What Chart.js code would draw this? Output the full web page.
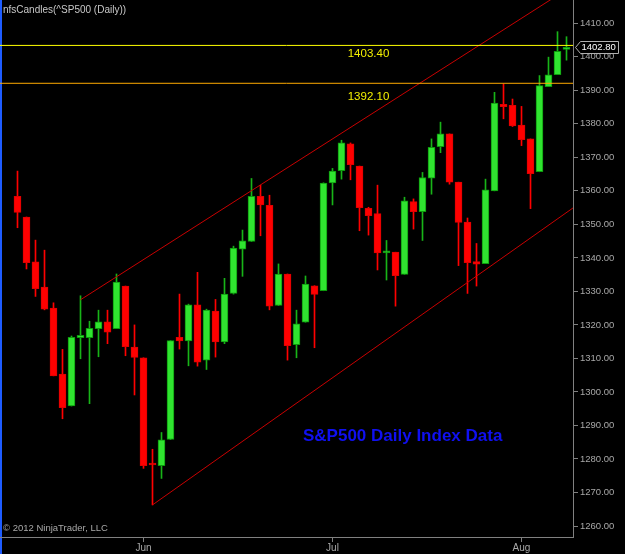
<!DOCTYPE html>
<html>
<head>
<meta charset="utf-8">
<script src="https://cdn.jsdelivr.net/npm/chart.js@4.4.1/dist/chart.umd.min.js"></script>
<style>
  html, body { margin: 0; padding: 0; background: #000; }
  #chart { display: block; }
</style>
</head>
<body>
<canvas id="chart" width="625" height="554"></canvas>
<script>
// Datos diarios (fecha, apertura, maximo, minimo, cierre)
const dates = [
  '2012-05-11', '2012-05-14', '2012-05-15', '2012-05-16', '2012-05-17', '2012-05-18', '2012-05-21',
  '2012-05-22', '2012-05-23', '2012-05-24', '2012-05-25', '2012-05-29', '2012-05-30', '2012-05-31',
  '2012-06-01', '2012-06-04', '2012-06-05', '2012-06-06', '2012-06-07', '2012-06-08', '2012-06-11',
  '2012-06-12', '2012-06-13', '2012-06-14', '2012-06-15', '2012-06-18', '2012-06-19', '2012-06-20',
  '2012-06-21', '2012-06-22', '2012-06-25', '2012-06-26', '2012-06-27', '2012-06-28', '2012-06-29',
  '2012-07-02', '2012-07-03', '2012-07-05', '2012-07-06', '2012-07-09', '2012-07-10', '2012-07-11',
  '2012-07-12', '2012-07-13', '2012-07-16', '2012-07-17', '2012-07-18', '2012-07-19', '2012-07-20',
  '2012-07-23', '2012-07-24', '2012-07-25', '2012-07-26', '2012-07-27', '2012-07-30', '2012-07-31',
  '2012-08-01', '2012-08-02', '2012-08-03', '2012-08-06', '2012-08-07', '2012-08-08'
];
const openVals = [
  1358.4, 1352.2, 1338.8, 1331.3, 1325.0, 1305.3, 1295.8, 1316.2, 1316.2, 1318.9, 1320.9, 1318.9, 1331.6, 1313.4,
  1310.2, 1278.4, 1278.0, 1285.8, 1316.3, 1315.2, 1326.0, 1309.5, 1324.1, 1314.9, 1329.4, 1342.6, 1344.9, 1358.4,
  1355.7, 1325.8, 1335.2, 1314.1, 1320.8, 1331.7, 1330.2, 1362.4, 1366.0, 1374.0, 1367.4, 1354.8, 1353.2, 1341.5,
  1341.7, 1335.1, 1356.8, 1353.8, 1363.8, 1373.2, 1377.0, 1362.6, 1350.7, 1338.9, 1338.3, 1360.0, 1385.8, 1385.5,
  1379.6, 1375.5, 1365.7, 1391.1, 1394.7, 1402.2
];
const highVals = [
  1365.9, 1352.2, 1345.3, 1342.3, 1326.6, 1312.7, 1316.7, 1328.7, 1321.1, 1324.4, 1324.4, 1335.2, 1331.6, 1320.0,
  1310.2, 1282.9, 1287.9, 1315.3, 1329.2, 1326.2, 1335.7, 1324.7, 1327.6, 1333.9, 1343.5, 1348.3, 1363.7, 1361.7,
  1358.7, 1338.2, 1335.2, 1324.4, 1334.6, 1331.7, 1362.4, 1366.7, 1375.1, 1374.3, 1367.4, 1355.1, 1361.7, 1345.2,
  1341.7, 1358.1, 1357.6, 1365.5, 1375.5, 1380.5, 1377.0, 1362.6, 1351.9, 1344.3, 1363.5, 1389.4, 1391.9, 1387.4,
  1385.2, 1375.5, 1394.4, 1399.9, 1407.5, 1406.0
];
const lowVals = [
  1349.0, 1336.7, 1328.5, 1324.5, 1304.8, 1292.0, 1295.8, 1309.9, 1296.5, 1310.5, 1314.4, 1318.9, 1310.8, 1299.1,
  1277.2, 1266.3, 1274.2, 1285.8, 1312.8, 1307.8, 1307.7, 1306.7, 1310.4, 1314.4, 1329.2, 1334.5, 1344.9, 1346.6,
  1324.5, 1325.8, 1309.5, 1310.2, 1320.8, 1313.2, 1330.2, 1355.8, 1363.5, 1363.3, 1348.1, 1346.8, 1336.4, 1333.4,
  1325.6, 1335.1, 1348.6, 1345.2, 1359.0, 1371.4, 1362.0, 1337.7, 1329.4, 1331.6, 1338.3, 1360.0, 1381.5, 1379.2,
  1373.5, 1354.7, 1365.7, 1391.1, 1394.7, 1399.0
];
const closeVals = [
  1353.6, 1338.6, 1330.8, 1324.7, 1304.8, 1295.3, 1316.3, 1316.9, 1319.0, 1320.9, 1317.8, 1332.8, 1313.5, 1310.3,
  1278.0, 1278.2, 1285.7, 1315.3, 1315.2, 1326.0, 1308.9, 1324.4, 1314.9, 1329.2, 1342.9, 1345.1, 1358.4, 1355.8,
  1325.6, 1335.2, 1313.8, 1320.3, 1332.2, 1329.1, 1362.3, 1365.9, 1374.3, 1367.8, 1355.0, 1352.6, 1341.5, 1341.7,
  1334.7, 1357.0, 1353.8, 1364.0, 1373.0, 1377.0, 1362.6, 1350.6, 1338.6, 1338.1, 1360.3, 1386.2, 1385.1, 1379.4,
  1375.3, 1365.1, 1391.4, 1394.6, 1401.6, 1402.8
];

// Etiquetas de los ejes
const monthLabels = ['Jun', 'Jul', 'Aug'];
const yTickValues = [1260, 1270, 1280, 1290, 1300, 1310, 1320, 1330, 1340, 1350, 1360, 1370, 1380, 1390, 1400, 1410];

// Lineas horizontales y canal (indice de vela, precio)
const levelValues = [1403.4, 1392.1];
const levelLabels = ['1403.40', '1392.10'];
const upperChannel = [[7, 1327.5], [61.72, 1421.3]];
const lowerChannel = [[15, 1266.3], [61.72, 1354.9]];

// Indices donde empieza cada mes (Jun, Jul, Aug)
const monthIdx = [];
dates.forEach((d, i) => {
  if (i > 0 && d.slice(5, 7) !== dates[i - 1].slice(5, 7)) monthIdx.push(i);
});

const FONT = 'Liberation Sans, Arial, sans-serif';
const isUp = openVals.map((o, i) => closeVals[i] >= o);

const bodies = dates.map((d, i) => ({ x: i, y: [openVals[i], closeVals[i]] }));
const wicks = dates.map((d, i) => ({ x: i, y: [lowVals[i], highVals[i]] }));

// Plugin: fondo, textos y marcador de precio
const decoPlugin = {
  id: 'deco',
  beforeDraw(chart) {
    const ctx = chart.ctx;
    ctx.save();
    ctx.fillStyle = '#000';
    ctx.fillRect(0, 0, chart.width, chart.height);
    ctx.fillStyle = '#1e5cff';
    ctx.fillRect(0, 0, 2, chart.height);
    ctx.restore();
  },
  afterDraw(chart) {
    const ctx = chart.ctx;
    const xs = chart.scales.x, ys = chart.scales.y;
    ctx.save();
    ctx.textBaseline = 'middle';

    ctx.fillStyle = '#c8c8c8';
    ctx.font = '10px ' + FONT;
    ctx.textAlign = 'left';
    ctx.fillText('nfsCandles(^SP500 (Daily))', 3, 10);

    ctx.fillStyle = '#a8a8a8';
    ctx.font = '9.5px ' + FONT;
    ctx.fillText('\u00A9 2012 NinjaTrader, LLC', 3, 528);

    ctx.fillStyle = '#1010f0';
    ctx.font = 'bold 17px ' + FONT;
    ctx.fillText('S&P500 Daily Index Data', 303, 436);

    // etiquetas de niveles
    const labelOffsets = [8.5, 14];
    ctx.fillStyle = '#f4f000';
    ctx.font = '11.5px ' + FONT;
    ctx.textAlign = 'center';
    levelValues.forEach((v, k) => {
      ctx.fillText(levelLabels[k], xs.getPixelForValue(39), ys.getPixelForValue(v) + labelOffsets[k]);
    });

    // marcador del ultimo cierre
    const last = closeVals[closeVals.length - 1];
    const py = Math.round(ys.getPixelForValue(last)) + 0.5;
    const ax = chart.chartArea.right + 2.5;
    ctx.beginPath();
    ctx.moveTo(ax, py);
    ctx.lineTo(ax + 5, py - 6);
    ctx.lineTo(618.5, py - 6);
    ctx.lineTo(618.5, py + 6);
    ctx.lineTo(ax + 5, py + 6);
    ctx.closePath();
    ctx.fillStyle = '#000';
    ctx.fill();
    ctx.strokeStyle = '#b0b0b0';
    ctx.lineWidth = 1;
    ctx.stroke();
    ctx.fillStyle = '#ffffff';
    ctx.font = '9.5px ' + FONT;
    ctx.textAlign = 'left';
    ctx.fillText(last.toFixed(2), ax + 6, py);
    ctx.restore();
  }
};

const xMin = -1.944, xMax = 61.722;

const config = {
  type: 'bar',
  data: {
    datasets: [
      {
        type: 'line',
        data: [{ x: xMin, y: levelValues[0] }, { x: xMax, y: levelValues[0] }],
        borderColor: '#ffff00', borderWidth: 1, pointRadius: 0, order: 0
      },
      {
        type: 'line',
        data: [{ x: xMin, y: levelValues[1] }, { x: xMax, y: levelValues[1] }],
        borderColor: '#ffaa00', borderWidth: 1, pointRadius: 0, order: 0
      },
      {
        type: 'line',
        data: upperChannel.map(p => ({ x: p[0], y: p[1] })),
        borderColor: '#c80000', borderWidth: 1, pointRadius: 0, order: 0
      },
      {
        type: 'line',
        data: lowerChannel.map(p => ({ x: p[0], y: p[1] })),
        borderColor: '#c80000', borderWidth: 1, pointRadius: 0, order: 0
      },
      {
        data: bodies,
        grouped: false,
        barThickness: 7,
        minBarLength: 2,
        borderSkipped: false,
        borderWidth: 1,
        backgroundColor: isUp.map(u => u ? '#30e430' : '#ff0000'),
        borderColor: isUp.map(u => u ? '#0c9a0c' : '#e00000'),
        order: 1
      },
      {
        data: wicks,
        grouped: false,
        barThickness: 1,
        borderWidth: 0,
        backgroundColor: isUp.map(u => u ? '#18b418' : '#ff0000'),
        order: 2
      }
    ]
  },
  options: {
    responsive: false,
    animation: false,
    devicePixelRatio: 1,
    layout: { padding: 0 },
    plugins: { legend: { display: false }, tooltip: { enabled: false } },
    scales: {
      x: {
        type: 'linear',
        min: xMin,
        max: xMax,
        offset: false,
        grid: { offset: false, drawOnChartArea: false, drawTicks: true, tickLength: 5, color: '#808080' },
        border: { display: true, color: '#808080', width: 1 },
        ticks: {
          autoSkip: false,
          maxRotation: 0,
          padding: 0,
          color: '#a8a8a8',
          font: { family: FONT, size: 10 },
          callback: (v) => monthLabels[monthIdx.indexOf(v)]
        },
        afterBuildTicks: (scale) => { scale.ticks = monthIdx.map(v => ({ value: v })); },
        afterFit: (scale) => {
          scale.height = 17;
          scale.paddingLeft = 0;
          scale.paddingRight = 0;
        }
      },
      y: {
        type: 'linear',
        position: 'right',
        min: 1256.72,
        max: 1416.95,
        grid: { drawOnChartArea: false, drawTicks: true, tickLength: 5, color: '#808080' },
        border: { display: true, color: '#808080', width: 1 },
        ticks: {
          padding: 2,
          color: '#a8a8a8',
          font: { family: FONT, size: 9.5 },
          callback: (v) => Number(v).toFixed(2)
        },
        afterBuildTicks: (scale) => { scale.ticks = yTickValues.map(v => ({ value: v })); },
        afterFit: (scale) => {
          scale.width = 52;
          scale.paddingTop = 0;
          scale.paddingBottom = 0;
        }
      }
    }
  },
  plugins: [decoPlugin]
};

window.myChart = new Chart(document.getElementById('chart').getContext('2d'), config);
</script>
</body>
</html>
